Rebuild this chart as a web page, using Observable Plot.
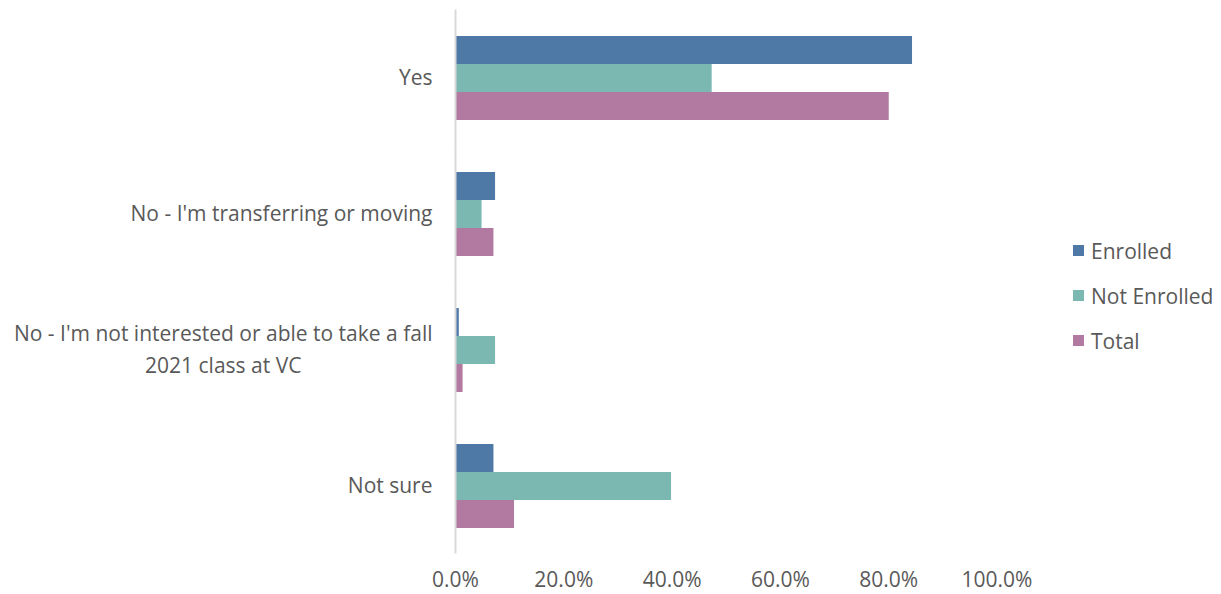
<!DOCTYPE html>
<html><head><meta charset="utf-8">
<script src="https://cdn.jsdelivr.net/npm/d3@7"></script>
<script src="https://cdn.jsdelivr.net/npm/@observablehq/plot@0.6"></script>
<style>
body{margin:0;background:#fff;font-family:"Open Sans",sans-serif;}
#wrap{position:relative;width:1221px;height:594px;}
#legend{position:absolute;left:1073px;top:228px;}
.item{display:flex;align-items:center;height:45px;font-size:21px;color:#595959}
.sw{width:11px;height:11px;margin-right:7px}
</style></head><body><div id="wrap"><div id="legend"></div></div>
<script>
const categories = ["Yes","No - I'm transferring or moving","No - I'm not interested or able to take a fall\n2021 class at VC","Not sure"];
const series = ["Enrolled","Not Enrolled","Total"];
const enrolled = [0.844, 0.074, 0.007, 0.071];
const notEnrolled = [0.474, 0.049, 0.074, 0.399];
const total = [0.801, 0.071, 0.014, 0.109];
const colors = ["#4e79a7","#7ab8b1","#b27aa0"];
const xTicks = [0,0.2,0.4,0.6,0.8,1.0];

const values = [enrolled, notEnrolled, total];
const data = [];
categories.forEach((c,i)=>series.forEach((s,j)=>data.push({category:c, series:s, value:values[j][i]})));

const chart = Plot.plot({
  width:1221, height:594,
  marginLeft:455, marginRight:224.5, marginTop:9, marginBottom:41,
  x:{domain:[0,1], label:null},
  fy:{domain:categories, paddingInner:0.375, paddingOuter:0.1875, label:null, axis:null},
  y:{domain:series, padding:0, axis:null},
  color:{domain:series, range:colors},
  style:{fontFamily:"'Open Sans', sans-serif", fontSize:"21px", color:"#595959", background:"transparent"},
  marks:[
    Plot.barX(data,{x:"value", y:"series", fy:"category", fill:"series"}),
    Plot.ruleX([0],{stroke:"#d9d9d9", strokeWidth:2, insetTop:-25.5, insetBottom:-25.5}),
    Plot.axisX({ticks:xTicks, tickFormat:d=>(d*100).toFixed(1)+"%", tickSize:0, tickPadding:44, fontSize:21, fill:"#595959", label:null}),
    Plot.text(categories,{fy:d=>d, text:d=>d, frameAnchor:"left", textAnchor:"end", dx:-23, dy:-3, lineHeight:1.5, fontSize:21, fill:"#595959"})
  ]
});
document.getElementById("wrap").prepend(chart);

// center multi-line category labels
d3.select(chart).selectAll("text").each(function(){
  const tspans = this.querySelectorAll("tspan");
  if (tspans.length > 1) {
    let w = 0;
    tspans.forEach(t=>{ w = Math.max(w, t.getComputedTextLength()); });
    this.setAttribute("text-anchor","middle");
    tspans.forEach(t=>t.setAttribute("x", -w/2));
  }
});

const legend = d3.select("#legend");
series.forEach((s,i)=>{
  const it = legend.append("div").attr("class","item");
  it.append("div").attr("class","sw").style("background",colors[i]);
  it.append("span").text(s);
});
</script></body></html>
